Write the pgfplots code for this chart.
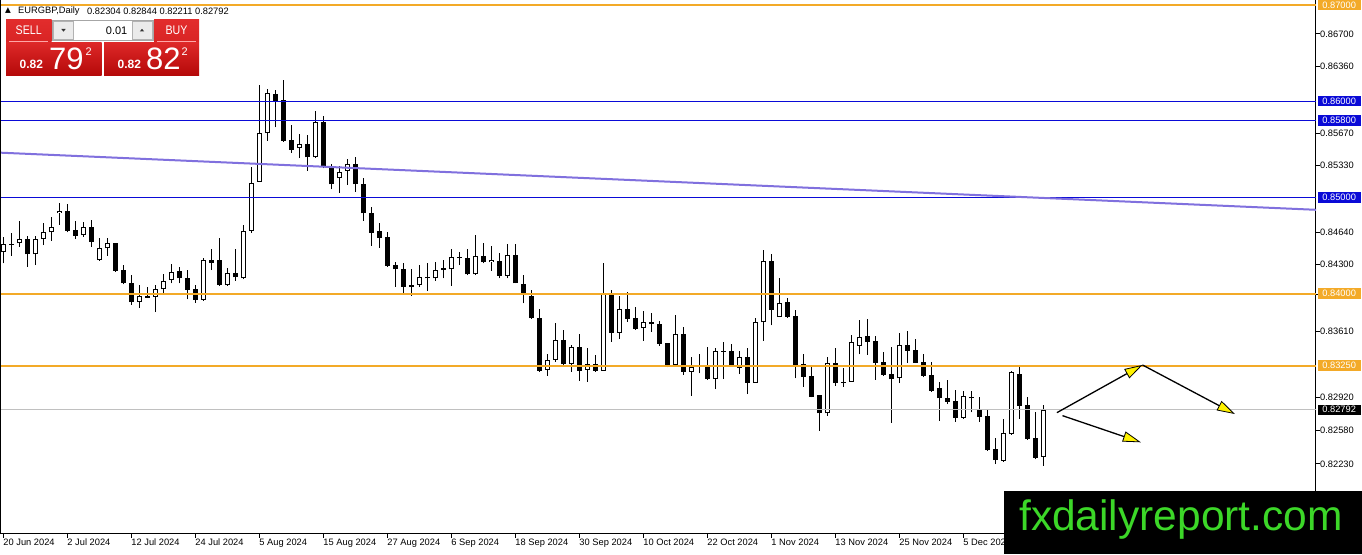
\documentclass[border=0pt]{standalone}
\usepackage{fontspec}
\setmainfont{Liberation Sans}
\newfontfamily\dejavu{DejaVu Sans}
\usepackage{pgfplots}
\pgfplotsset{compat=1.18}
\usepackage{pgfplotstable}
\usetikzlibrary{arrows.meta}

\definecolor{mtorange}{RGB}{243,170,40}
\definecolor{mtblue}{RGB}{10,10,215}
\definecolor{mtpurple}{RGB}{128,112,222}
\definecolor{mtgrey}{RGB}{192,192,192}
\definecolor{wmgreen}{RGB}{60,215,40}
\definecolor{btnTop}{RGB}{226,44,44}
\definecolor{btnBot}{RGB}{180,8,8}
\newcommand\lf{\fontsize{9.3}{10}\selectfont}

\pgfplotstableread{
i O H L C
0 0.84429 0.84591 0.84315 0.84512
1 0.84507 0.84626 0.84394 0.84517
2 0.84523 0.84754 0.84487 0.84565
3 0.84568 0.84602 0.84279 0.84408
4 0.84408 0.84602 0.84297 0.84565
5 0.84565 0.84731 0.84505 0.84637
6 0.84637 0.84793 0.84550 0.84689
7 0.84835 0.84939 0.84713 0.84862
8 0.84862 0.84928 0.84637 0.84654
9 0.84661 0.84755 0.84565 0.84602
10 0.84608 0.84747 0.84591 0.84689
11 0.84689 0.84765 0.84487 0.84540
12 0.84349 0.84581 0.84342 0.84477
13 0.84471 0.84581 0.84394 0.84523
14 0.84523 0.84523 0.84227 0.84235
15 0.84245 0.84297 0.84096 0.84106
16 0.84106 0.84193 0.83882 0.83910
17 0.83910 0.84089 0.83854 0.83976
18 0.83979 0.84071 0.83952 0.83958
19 0.83968 0.84089 0.83806 0.84044
20 0.84044 0.84200 0.84006 0.84134
21 0.84141 0.84304 0.84106 0.84227
22 0.84235 0.84279 0.84106 0.84159
23 0.84159 0.84245 0.83941 0.84037
24 0.84044 0.84089 0.83906 0.83934
25 0.83934 0.84367 0.83927 0.84349
26 0.84349 0.84460 0.84245 0.84321
27 0.84349 0.84574 0.84079 0.84089
28 0.84089 0.84263 0.84079 0.84211
29 0.84211 0.84460 0.84134 0.84169
30 0.84159 0.84713 0.84149 0.84654
31 0.84654 0.85319 0.84633 0.85153
32 0.85165 0.86169 0.85165 0.85667
33 0.85667 0.86124 0.85590 0.86083
34 0.86072 0.86117 0.85729 0.86006
35 0.86013 0.86221 0.85580 0.85590
36 0.85597 0.85757 0.85465 0.85493
37 0.85511 0.85656 0.85407 0.85552
38 0.85552 0.85649 0.85278 0.85417
39 0.85417 0.85899 0.85407 0.85781
40 0.85781 0.85847 0.85302 0.85319
41 0.85313 0.85344 0.85084 0.85136
42 0.85199 0.85327 0.85049 0.85268
43 0.85275 0.85396 0.85129 0.85344
44 0.85344 0.85417 0.85059 0.85136
45 0.85136 0.85199 0.84758 0.84835
46 0.84835 0.84897 0.84495 0.84633
47 0.84651 0.84731 0.84477 0.84581
48 0.84585 0.84643 0.84279 0.84286
49 0.84297 0.84331 0.84071 0.84252
50 0.84255 0.84314 0.83996 0.84071
51 0.84089 0.84255 0.83976 0.84071
52 0.84089 0.84297 0.84071 0.84176
53 0.84176 0.84314 0.84027 0.84159
54 0.84159 0.84331 0.84134 0.84245
55 0.84263 0.84349 0.84159 0.84245
56 0.84252 0.84460 0.84079 0.84377
57 0.84383 0.84436 0.84297 0.84367
58 0.84367 0.84460 0.84193 0.84200
59 0.84200 0.84608 0.84193 0.84391
60 0.84391 0.84523 0.84314 0.84325
61 0.84325 0.84498 0.84237 0.84349
62 0.84339 0.84425 0.84159 0.84183
63 0.84183 0.84512 0.84159 0.84401
64 0.84401 0.84512 0.84106 0.84106
65 0.84099 0.84198 0.83898 0.83996
66 0.83976 0.84037 0.83736 0.83744
67 0.83744 0.83837 0.83188 0.83199
68 0.83206 0.83372 0.83144 0.83310
69 0.83310 0.83698 0.83292 0.83518
70 0.83518 0.83622 0.83258 0.83265
71 0.83265 0.83466 0.83188 0.83442
72 0.83442 0.83580 0.83095 0.83199
73 0.83206 0.83432 0.83085 0.83265
74 0.83265 0.83362 0.83188 0.83199
75 0.83199 0.84321 0.83199 0.83993
76 0.83993 0.84037 0.83501 0.83594
77 0.83594 0.83976 0.83528 0.83837
78 0.83837 0.84019 0.83708 0.83736
79 0.83744 0.83858 0.83622 0.83632
80 0.83640 0.83823 0.83511 0.83702
81 0.83702 0.83802 0.83604 0.83681
82 0.83684 0.83719 0.83459 0.83476
83 0.83483 0.83490 0.83234 0.83258
84 0.83258 0.83778 0.83258 0.83577
85 0.83577 0.83650 0.83154 0.83188
86 0.83190 0.83338 0.82936 0.83242
87 0.83250 0.83367 0.83171 0.83240
88 0.83247 0.83442 0.83102 0.83112
89 0.83112 0.83432 0.83008 0.83404
90 0.83404 0.83494 0.83112 0.83394
91 0.83404 0.83476 0.83251 0.83258
92 0.83224 0.83407 0.83164 0.83338
93 0.83345 0.83432 0.82956 0.83074
94 0.83074 0.83744 0.83074 0.83702
95 0.83702 0.84453 0.83511 0.84339
96 0.84339 0.84411 0.83670 0.83830
97 0.83754 0.84159 0.83754 0.83900
98 0.83916 0.83952 0.83750 0.83761
99 0.83768 0.83830 0.83119 0.83258
100 0.83268 0.83367 0.83032 0.83136
101 0.83147 0.83241 0.82922 0.82929
102 0.82946 0.82946 0.82575 0.82756
103 0.82756 0.83338 0.82731 0.83282
104 0.83282 0.83432 0.83043 0.83068
105 0.83085 0.83230 0.83032 0.83068
106 0.83085 0.83570 0.83085 0.83494
107 0.83459 0.83726 0.83367 0.83553
108 0.83557 0.83733 0.83362 0.83501
109 0.83508 0.83560 0.83102 0.83282
110 0.83287 0.83388 0.83147 0.83154
111 0.83161 0.83442 0.82658 0.83109
112 0.83119 0.83587 0.83068 0.83466
113 0.83466 0.83614 0.83282 0.83407
114 0.83414 0.83528 0.83276 0.83282
115 0.83287 0.83372 0.83130 0.83147
116 0.83154 0.83292 0.82980 0.82991
117 0.83015 0.83084 0.82679 0.82911
118 0.82911 0.83102 0.82852 0.82876
119 0.82884 0.82998 0.82669 0.82710
120 0.82710 0.82991 0.82694 0.82936
121 0.82922 0.82991 0.82766 0.82911
122 0.82800 0.82922 0.82669 0.82720
123 0.82728 0.82790 0.82367 0.82374
124 0.82381 0.82494 0.82228 0.82270
125 0.82263 0.82700 0.82253 0.82547
126 0.82540 0.83199 0.82530 0.83188
127 0.83164 0.83233 0.82700 0.82835
128 0.82842 0.82928 0.82478 0.82488
129 0.82502 0.82773 0.82277 0.82294
130 0.82304 0.82844 0.82211 0.82792
}\candles

\begin{document}
\begin{tikzpicture}[x=1pt,y=1pt]
\useasboundingbox (0,0) rectangle (1362,554);
\fill[white] (0,0) rectangle (1362,554);
\begin{axis}[
  at={(0pt,20.5pt)}, anchor=south west,
  scale only axis, width=1316pt, height=533.5pt,
  xmin=-0.41, xmax=164.09, ymin=0.81506, ymax=0.87052,
  clip=false,
  axis x line*=bottom, axis y line*=right,
  axis line style={black, line width=1pt},
  tick align=outside, major tick length=4pt,
  tick style={black, line width=0.8pt},
  scaled ticks=false,
  xtick={0,8,...,128},
  xticklabels={20 Jun 2024,2 Jul 2024,12 Jul 2024,24 Jul 2024,5 Aug 2024,15 Aug 2024,27 Aug 2024,6 Sep 2024,18 Sep 2024,30 Sep 2024,10 Oct 2024,22 Oct 2024,1 Nov 2024,13 Nov 2024,25 Nov 2024,5 Dec 2024,17 Dec 2024},
  xticklabel style={font=\lf, anchor=north west, inner sep=0pt, xshift=0pt, yshift=-1.5pt},
  ytick={0.8223,0.8258,0.8292,0.8361,0.8399,0.8430,0.8464,0.8533,0.8567,0.8636,0.8670},
  yticklabels={0.82230,0.82580,0.82920,0.83610,0.83990,0.84300,0.84640,0.85330,0.85670,0.86360,0.86700},
  yticklabel style={font=\lf, anchor=west, inner sep=0pt, xshift=0pt},
]
% wicks
\addplot[draw=none, forget plot, error bars/.cd, y dir=plus, y explicit, error mark=none,
  error bar style={draw=black, line width=1pt}]
  table[x=i, y=L, y error plus expr={\thisrow{H}-\thisrow{L}}] {\candles};
% bodies (outline / black fill)
\addplot[draw=none, forget plot, error bars/.cd, y dir=plus, y explicit, error mark=none,
  error bar style={draw=black, line width=5.5pt}]
  table[x=i, y expr={min(\thisrow{O},\thisrow{C})}, y error plus expr={max(abs(\thisrow{C}-\thisrow{O}),0.000104)}] {\candles};
% bullish bodies (white inside)
\addplot[draw=none, forget plot, error bars/.cd, y dir=plus, y explicit, error mark=none,
  error bar style={draw=white, line width=3.5pt}]
  table[x=i, y expr={\thisrow{O}+0.000104}, y error plus expr={max(\thisrow{C}-\thisrow{O}-0.000208,0)}] {\candles};
% horizontal levels
\addplot[mtgrey, line width=1pt] coordinates {(-0.41,0.82792) (164.09,0.82792)};
\addplot[mtblue, line width=1pt] coordinates {(-0.41,0.86) (164.09,0.86)};
\addplot[mtblue, line width=1pt] coordinates {(-0.41,0.858) (164.09,0.858)};
\addplot[mtblue, line width=1pt] coordinates {(-0.41,0.85) (164.09,0.85)};
\addplot[mtpurple, line width=2pt] coordinates {(-0.41,0.85465) (164.09,0.84871)};
\addplot[mtorange, line width=2pt] coordinates {(-0.41,0.87) (164.09,0.87)};
\addplot[mtorange, line width=2pt] coordinates {(-0.41,0.84) (164.09,0.84)};
\addplot[mtorange, line width=2pt] coordinates {(-0.41,0.8325) (164.09,0.8325)};
% left border
\draw[black, line width=1.5pt] (rel axis cs:0,0) -- (rel axis cs:0,1);
% price labels
\tikzset{plab/.style={anchor=west, inner sep=0pt, minimum width=43pt, minimum height=10.5pt, text=white, font=\lf, xshift=1.5pt}}
\node[plab, fill=mtorange] at (axis cs:164.09,0.87) {0.87000};
\node[plab, fill=mtblue] at (axis cs:164.09,0.86) {0.86000};
\node[plab, fill=mtblue] at (axis cs:164.09,0.858) {0.85800};
\node[plab, fill=mtblue] at (axis cs:164.09,0.85) {0.85000};
\node[plab, fill=mtorange] at (axis cs:164.09,0.84) {0.84000};
\node[plab, fill=mtorange] at (axis cs:164.09,0.8325) {0.83250};
\node[plab, fill=black] at (axis cs:164.09,0.82792) {0.82792};
% arrows
\tikzset{yarr/.style={black, line width=1.3pt, -{Triangle[length=18pt, width=10.5pt, fill=yellow, line width=0.8pt]}}}
\draw[yarr] (axis cs:131.7,0.82762) -- (axis cs:142.4,0.83258);
\draw[yarr] (axis cs:142.4,0.83258) -- (axis cs:153.96,0.82748);
\draw[yarr] (axis cs:132.4,0.82731) -- (axis cs:142.2,0.82454);
\end{axis}
% header
\node[anchor=west, inner sep=0pt] at (5,543) {\dejavu\fontsize{7.5}{7.5}\selectfont ▲};
\node[anchor=west, inner sep=0pt, font=\lf] at (18,543) {EURGBP,Daily};
\node[anchor=west, inner sep=0pt, font=\lf] at (87,543) {0.82304 0.82844 0.82211 0.82792};
% SELL / BUY panel
\shade[top color=btnTop, bottom color=btnTop!80!btnBot] (6,534) rectangle (51.5,512);
\shade[top color=btnTop, bottom color=btnTop!80!btnBot] (154,534) rectangle (199,512);
\shade[top color=btnTop!90!btnBot, bottom color=btnBot] (6,511.5) rectangle (101.5,478);
\shade[top color=btnTop!90!btnBot, bottom color=btnBot] (104,511.5) rectangle (199,478);
\draw[red!35!white, line width=0.8pt] (9,512.3) -- (48,512.3);
\draw[red!35!white, line width=0.8pt] (157,512.3) -- (196,512.3);
\node[text=white, font=\fontsize{12.5}{13}\selectfont, xscale=0.85] at (28.7,523.5) {SELL};
\node[text=white, font=\fontsize{12.5}{13}\selectfont, xscale=0.85] at (176.5,523.5) {BUY};
\filldraw[fill=white, draw=black!35] (52.5,534) rectangle (153,513.5);
\filldraw[fill=black!8, draw=black!30] (53.5,533) rectangle (73.5,514.5);
\filldraw[fill=black!8, draw=black!30] (132,533) rectangle (152,514.5);
\fill[black!80] (61.3,525) -- (65.7,525) -- (63.5,522.3) -- cycle;
\fill[black!80] (139.8,522.5) -- (144.2,522.5) -- (142,525.2) -- cycle;
\node[anchor=base east, inner sep=0pt, font=\fontsize{11}{11}\selectfont] at (127.5,519.5) {0.01};
\node[anchor=base west, inner sep=0pt, text=white, font=\bfseries\fontsize{12}{12}\selectfont] at (19.5,485.5) {0.82};
\node[anchor=base west, inner sep=0pt, text=white, font=\fontsize{31}{31}\selectfont] at (49,484) {79};
\node[anchor=base west, inner sep=0pt, text=white, font=\fontsize{11}{11}\selectfont] at (85.5,498) {2};
\node[anchor=base west, inner sep=0pt, text=white, font=\bfseries\fontsize{12}{12}\selectfont] at (117.5,485.5) {0.82};
\node[anchor=base west, inner sep=0pt, text=white, font=\fontsize{31}{31}\selectfont] at (146,484) {82};
\node[anchor=base west, inner sep=0pt, text=white, font=\fontsize{11}{11}\selectfont] at (181.5,498) {2};
% watermark
\fill[black] (1004,0) rectangle (1362,63);
\node[anchor=base west, inner sep=0pt, text=wmgreen, font=\fontsize{42.5}{43}\selectfont] at (1019,23.5) {fxdailyreport.com};
\end{tikzpicture}
\end{document}
